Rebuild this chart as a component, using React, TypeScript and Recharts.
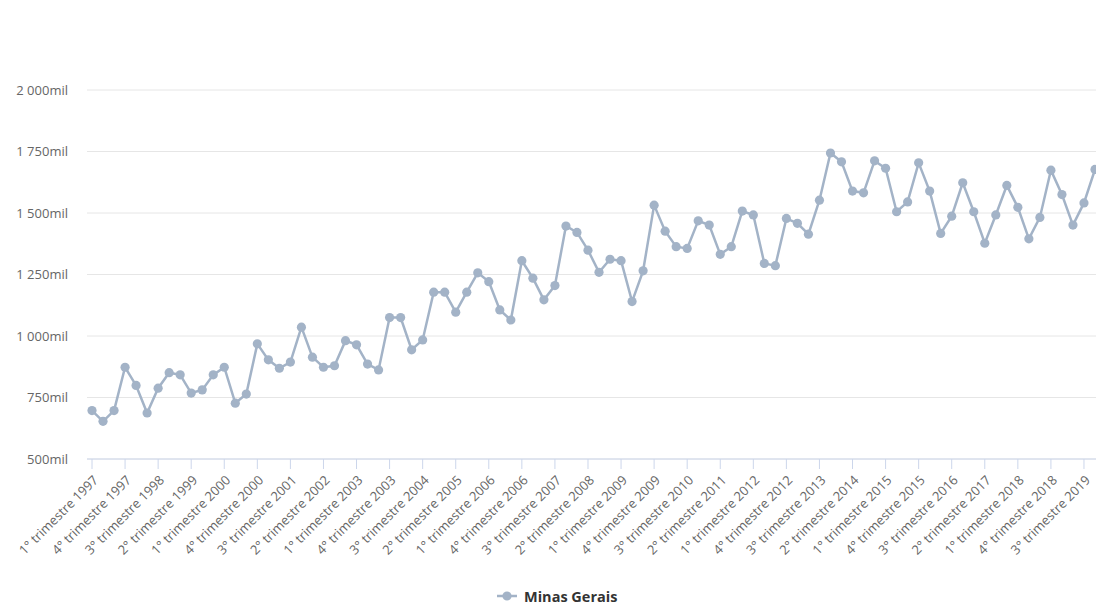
import React from 'react';
import { LineChart, Line, XAxis, YAxis, CartesianGrid } from 'recharts';

const years = [
  1997, 1998, 1999, 2000, 2001, 2002, 2003, 2004, 2005, 2006, 2007, 2008,
  2009, 2010, 2011, 2012, 2013, 2014, 2015, 2016, 2017, 2018, 2019,
];
const quarters = ['1°', '2°', '3°', '4°'];

// Minas Gerais, read quarter by quarter (in thousands)
const minasGerais = [
  697, 653, 697, 873,
  799, 687, 788, 851,
  842, 768, 781, 842,
  873, 727, 764, 968,
  903, 869, 894, 1036,
  914, 873, 879, 981,
  964, 886, 862, 1075,
  1075, 944, 984, 1178,
  1178, 1097, 1178, 1257,
  1221, 1106, 1065, 1306,
  1235, 1147, 1205, 1447,
  1421, 1349, 1259, 1312,
  1306, 1140, 1265, 1532,
  1426, 1363, 1356, 1468,
  1451, 1332, 1363, 1508,
  1492, 1295, 1286, 1478,
  1458, 1414, 1552, 1744,
  1708, 1589, 1582, 1712,
  1682, 1505, 1545, 1704,
  1589, 1417, 1487, 1623,
  1505, 1377, 1492, 1612,
  1523, 1395, 1482, 1674,
  1575, 1451, 1541, 1677,
];

const yTicks = [500, 750, 1000, 1250, 1500, 1750, 2000];

const categories: string[] = [];
years.forEach((y) => quarters.forEach((q) => categories.push(`${q} trimestre ${y}`)));

const data = categories.map((name, i) => ({ name, value: minasGerais[i] }));

const LINE_COLOR = '#a3b3c7';
const FONT = '"Open Sans", sans-serif';

const formatY = (v: number) => {
  if (v >= 1000) {
    return `${Math.floor(v / 1000)} ${String(v % 1000).padStart(3, '0')}mil`;
  }
  return `${v}mil`;
};

const XTick = (props: any) => {
  const { x, y, payload } = props;
  const tx = x + 7;
  const ty = y + 12;
  return (
    <text
      x={tx}
      y={ty}
      transform={`rotate(-45 ${tx} ${ty})`}
      textAnchor="end"
      fontSize={13}
      fontFamily={FONT}
      fill="#666"
    >
      {payload.value}
    </text>
  );
};

export default function App() {
  return (
    <div
      style={{
        position: 'fixed',
        left: 0,
        top: 0,
        width: 1096,
        height: 609,
        overflow: 'hidden',
        background: '#fff',
        fontFamily: FONT,
      }}
    >
      <LineChart
        width={1096}
        height={609}
        data={data}
        margin={{ top: 90, right: 0, left: 0, bottom: 50 }}
      >
        <CartesianGrid vertical={false} stroke="#e6e6e6" />
        <XAxis
          dataKey="name"
          interval={2}
          height={100}
          padding={{ left: 5, right: 1 }}
          stroke="#ccd6eb"
          tickSize={10}
          tickMargin={0}
          tick={<XTick />}
        />
        <YAxis
          width={87}
          domain={[500, 2000]}
          ticks={yTicks}
          axisLine={false}
          tickLine={false}
          tickSize={0}
          tickMargin={19}
          tickFormatter={formatY}
          tick={{ fontSize: 13, fill: '#666', fontFamily: FONT }}
        />
        <Line
          type="linear"
          dataKey="value"
          stroke={LINE_COLOR}
          strokeWidth={2.5}
          dot={{ r: 4.6, fill: LINE_COLOR, stroke: LINE_COLOR, strokeWidth: 0 }}
          activeDot={false}
          isAnimationActive={false}
        />
      </LineChart>
      <div
        style={{
          position: 'absolute',
          left: 497,
          top: 586,
          display: 'flex',
          alignItems: 'center',
          fontSize: 14.5,
          fontWeight: 'bold',
          color: '#333',
        }}
      >
        <svg width={22} height={20} style={{ marginRight: 5 }}>
          <line x1={0} y1={10} x2={20} y2={10} stroke={LINE_COLOR} strokeWidth={2.5} />
          <circle cx={10} cy={10} r={4.6} fill={LINE_COLOR} />
        </svg>
        <span>Minas Gerais</span>
      </div>
    </div>
  );
}
